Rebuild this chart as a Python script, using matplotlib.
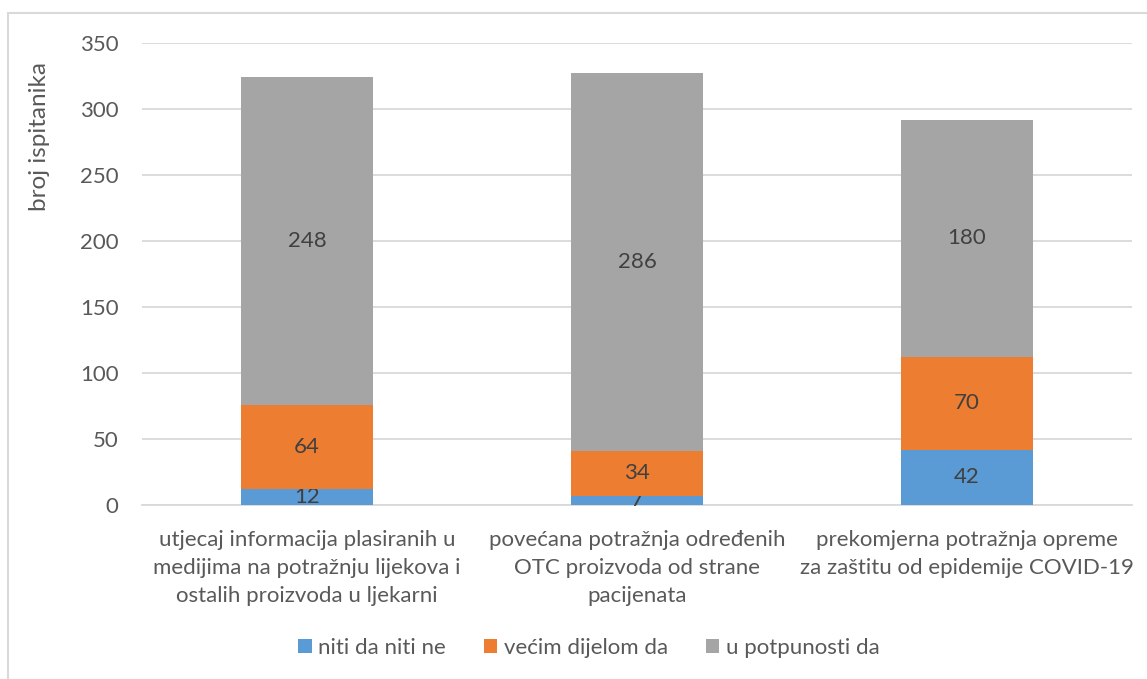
import numpy as np
import matplotlib.pyplot as plt
from matplotlib.patches import Rectangle

plt.rcParams['font.family'] = ['Lato', 'DejaVu Sans']

categories = ['utjecaj informacija plasiranih u\nmedijima na potražnju lijekova i\nostalih proizvoda u ljekarni',
              'povećana potražnja određenih\nOTC proizvoda od strane\npacijenata',
              'prekomjerna potražnja opreme\nza zaštitu od epidemije COVID-19']
niti = [12, 7, 42]
vecim = [64, 34, 70]
potpuno = [248, 286, 180]
series_names = ['niti da niti ne', 'većim dijelom da', 'u potpunosti da']
colors = ['#5B9BD5', '#ED7D31', '#A5A5A5']
yticks = [0, 50, 100, 150, 200, 250, 300, 350]

text_col = '#595959'
fs = 16

fig = plt.figure(figsize=(11.47, 6.79), dpi=100)
ax = fig.add_axes([0.1238, 0.2563, 0.8632, 0.6804])

# chart frame
fig.patches.append(Rectangle((8 / 1147, -0.05), 1.1, 1 - 13 / 679 + 0.05,
                             transform=fig.transFigure, fill=False,
                             edgecolor='#d9d9d9', linewidth=1.5))

x = np.arange(len(categories))
bottom = np.zeros(len(categories))
for vals, name, c in zip([niti, vecim, potpuno], series_names, colors):
    bars = ax.bar(x, vals, width=0.4, bottom=bottom, color=c, label=name, zorder=3)
    ax.bar_label(bars, labels=[str(v) for v in vals], label_type='center',
                 fontsize=fs, color='#404040')
    bottom += np.array(vals)

ax.set_xlim(-0.5, 2.5)
ax.set_ylim(0, 350)
ax.set_yticks(yticks)
ax.set_xticks(x, labels=categories, linespacing=1.5)
ax.tick_params(axis='both', length=0, labelsize=fs, colors=text_col)
ax.tick_params(axis='x', pad=18)
ax.tick_params(axis='y', pad=17)
ax.grid(axis='y', color='#d9d9d9', linewidth=1.3, zorder=0)
for s in ['top', 'right', 'left']:
    ax.spines[s].set_visible(False)
ax.spines['bottom'].set_color('#d9d9d9')
ax.spines['bottom'].set_linewidth(1.3)

ax.set_ylabel('broj ispitanika', fontsize=17.5, color=text_col)
ax.yaxis.set_label_coords(-0.093, 0.797)

ax.legend(loc='center', bbox_to_anchor=(0.4515, -0.31), ncol=3, frameon=False,
          fontsize=fs, labelcolor=text_col, handlelength=0.6, handleheight=0.6,
          handletextpad=0.3, columnspacing=1.7)

fig.savefig('out.png', dpi=100)
